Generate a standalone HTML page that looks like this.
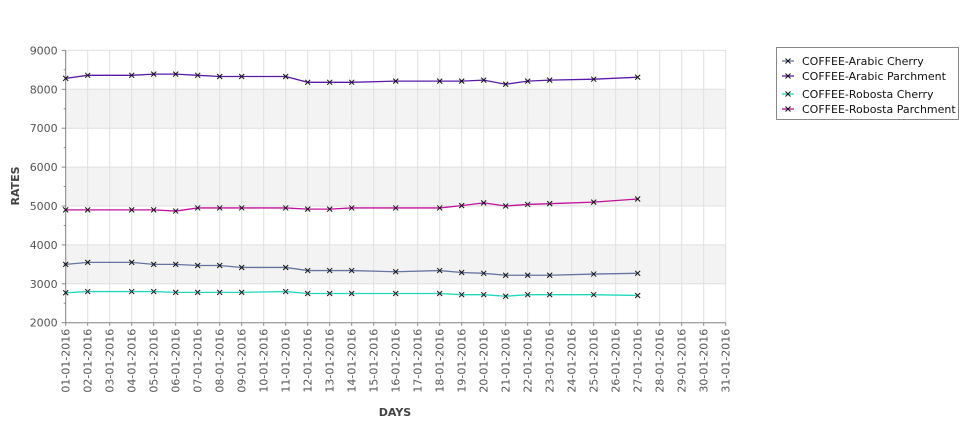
<!DOCTYPE html>
<html><head><meta charset="utf-8"><style>
body{margin:0;background:#fff;}
svg text{font-family:"DejaVu Sans","Liberation Sans",sans-serif;}
</style></head><body>
<svg id="chart" width="975" height="429" xmlns="http://www.w3.org/2000/svg">
<g id="bands"></g>
<g id="grid"></g>
<g id="axes"></g>
<g id="series"></g>
<text x="395" y="416" text-anchor="middle" font-size="11" font-weight="bold" fill="#444">DAYS</text>
<text transform="translate(19,186) rotate(-90)" text-anchor="middle" font-size="11" font-weight="bold" fill="#444">RATES</text>
<g>
<rect x="776.5" y="47.5" width="182" height="72" fill="#fff" stroke="#888"/>
<g id="legend-items"></g>
</g>
</svg>
<script>
const days = [1,2,4,5,6,7,8,9,11,12,13,14,16,18,19,20,21,22,23,25,27];
const arabicCherry = [3500,3550,3550,3500,3500,3470,3470,3420,3420,3340,3340,3340,3310,3340,3290,3270,3220,3220,3220,3250,3270];
const arabicParchment = [8280,8360,8360,8390,8390,8360,8330,8330,8330,8180,8180,8180,8210,8210,8210,8235,8130,8210,8235,8260,8310];
const robostaCherry = [2770,2800,2800,2800,2780,2780,2780,2780,2800,2750,2750,2750,2750,2750,2720,2720,2680,2720,2720,2720,2700];
const robostaParchment = [4900,4900,4900,4900,4870,4950,4950,4950,4950,4920,4920,4950,4950,4950,5010,5080,5000,5040,5060,5100,5180];
const seriesNames = ["COFFEE-Arabic Cherry","COFFEE-Arabic Parchment","COFFEE-Robosta Cherry","COFFEE-Robosta Parchment"];
const yTicks = [2000,3000,4000,5000,6000,7000,8000,9000];
const xDays = Array.from({length:31},(_,i)=>i+1);

const NS="http://www.w3.org/2000/svg";
const X0=65.7, DX=22, Y0=322.7, PER=38.9/1000;
const xs=d=>X0+(d-1)*DX;
const ys=v=>Y0-(v-2000)*PER;
function mk(t,a,p){const e=document.createElementNS(NS,t);for(const k in a)e.setAttribute(k,a[k]);p.appendChild(e);return e;}
const bands=document.getElementById('bands'),grid=document.getElementById('grid'),axes=document.getElementById('axes'),ser=document.getElementById('series');
const R=xs(31);
for(let i=0;i<yTicks.length-1;i++){
  if(i%2===1){const r=mk('rect',{x:X0,y:ys(yTicks[i+1]),width:R-X0,height:ys(yTicks[i])-ys(yTicks[i+1]),fill:'#f3f3f3'},bands);
  
  }
}
yTicks.forEach(v=>{
  const l=mk('line',{x1:X0,x2:R,y1:ys(v),y2:ys(v),stroke:'#e0e0e0'},grid);
  
  
  mk('line',{x1:X0-4,x2:X0,y1:ys(v),y2:ys(v),stroke:'#888'},axes);
  const t=mk('text',{x:X0-8,y:ys(v)+4,'text-anchor':'end','font-size':11,fill:'#555'},axes);
  t.textContent=v;
  
  
});
for(let v=2500;v<9000;v+=1000){mk('line',{x1:X0-2,x2:X0,y1:ys(v),y2:ys(v),stroke:'#888'},axes);}
xDays.forEach(d=>{
  const l=mk('line',{x1:xs(d),x2:xs(d),y1:ys(9000),y2:Y0,stroke:'#e0e0e0'},grid);
  
  
  mk('line',{x1:xs(d),x2:xs(d),y1:Y0,y2:Y0+3,stroke:'#888'},axes);
  const lbl=String(d).padStart(2,'0')+'-01-2016';
  const t=mk('text',{transform:`translate(${xs(d)+4},${Y0+6}) rotate(-90)`,'text-anchor':'end','font-size':11,fill:'#555'},axes);
  t.textContent=lbl;
  
  
});
mk('line',{x1:X0,x2:X0,y1:ys(9000),y2:Y0,stroke:'#888'},axes);
mk('line',{x1:X0,x2:R,y1:Y0,y2:Y0,stroke:'#888'},axes);
const all=[arabicCherry,arabicParchment,robostaCherry,robostaParchment];
const colors=['#6474a0','#5a1aa8','#20d8c0','#c0109c'];
all.forEach((vals,si)=>{
  const g=mk('g',{},ser);
  
  
  const pl=mk('polyline',{points:days.map((d,i)=>xs(d)+','+ys(vals[i])).join(' '),fill:'none',stroke:colors[si],'stroke-width':1.3},g);
  
  
  days.forEach((d,i)=>{const x=xs(d),y=ys(vals[i]);
    const p=mk('path',{d:`M${x-2.5},${y-2.5}L${x+2.5},${y+2.5}M${x-2.5},${y+2.5}L${x+2.5},${y-2.5}`,stroke:'#111','stroke-width':1},g);
    
    });
});
const li=document.getElementById('legend-items');
const ly=[61,76,94,109];
seriesNames.forEach((n,i)=>{
  const g=mk('g',{},li);
  
  
  mk('line',{x1:782,x2:794,y1:ly[i],y2:ly[i],stroke:colors[i],'stroke-width':1.3},g);
  mk('path',{d:`M785.5,${ly[i]-2.5}L790.5,${ly[i]+2.5}M785.5,${ly[i]+2.5}L790.5,${ly[i]-2.5}`,stroke:'#111'},g);
  const t=mk('text',{x:802,y:ly[i]+4,'font-size':11,fill:'#111'},g);
  t.textContent=n;
});
</script>
</body></html>
